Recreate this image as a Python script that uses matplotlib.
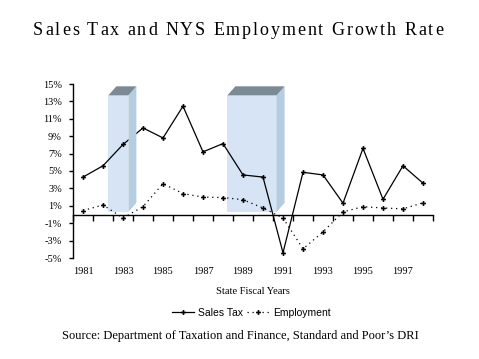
#!/usr/bin/env python3
"""Sales tax vs NYS employment growth rate, with recession boxes."""

import matplotlib

matplotlib.use("Agg")
import matplotlib.pyplot as plt
from matplotlib.patches import Polygon
from matplotlib.transforms import blended_transform_factory

years = list(range(1981, 1999))
year_labels = [str(y) for y in range(1981, 1999, 2)]
sales_tax = [4.3, 5.6, 8.05, 9.95, 8.8, 12.45, 7.2, 8.15, 4.55, 4.3,
             -4.4, 4.85, 4.55, 1.3, 7.6, 1.75, 5.6, 3.6]
employment = [0.45, 1.1, -0.4, 0.9, 3.55, 2.4, 2.0, 1.95, 1.7, 0.75,
              -0.4, -3.95, -2.0, 0.3, 0.9, 0.75, 0.65, 1.35]

# recession periods (fiscal-year axis) and box height in percent
recession_start = [1982.27, 1988.22]
recession_end = [1983.27, 1990.68]
recession_top = 13.7
recession_bottom = 0.3

TITLE = "Sales Tax and NYS Employment Growth Rate"
SERIF = "Liberation Serif"
SANS = "Liberation Sans"


def spaced_text(fig, x_center, y, text, width, **kw):
    """Draw text with extra letter spacing so it spans `width` pixels."""
    renderer = fig.canvas.get_renderer()

    def w(s):
        t = fig.text(0, 0, s, **kw)
        ext = t.get_window_extent(renderer).width
        t.remove()
        return ext

    base = w("xx")
    widths = [w("x" + ch + "x") - base for ch in text]
    gap = (width - sum(widths)) / (len(text) - 1)
    x = x_center - width / 2
    for ch, cw in zip(text, widths):
        if ch != " ":
            fig.text(x / fig.bbox.width, y, ch, ha="left", va="baseline", **kw)
        x += cw + gap


fig = plt.figure(figsize=(4.79, 3.59), dpi=100)
ax = fig.add_axes([73 / 479, 1 - 258 / 359, 360 / 479, 174 / 359])

ax.set_xlim(years[0] - 0.5, years[-1] + 0.5)
ax.set_ylim(-5, 15)

# 3-D looking recession boxes, depth given in pixels
for x0, x1 in zip(recession_start, recession_end):
    front = Polygon([(x0, recession_bottom), (x1, recession_bottom),
                     (x1, recession_top), (x0, recession_top)],
                    closed=True, facecolor="#d6e4f5", edgecolor="none", zorder=1)
    ax.add_patch(front)
    fx, fy = ax.transData.transform((x1, recession_bottom))
    tx, ty = ax.transData.transform((x1, recession_top))
    lx, ly = ax.transData.transform((x0, recession_top))
    side = Polygon([(fx, fy), (fx + 8, fy + 9), (tx + 8, ty + 9), (tx, ty)],
                   closed=True, transform=None, facecolor="#b5cde0",
                   edgecolor="none", zorder=1)
    top = Polygon([(lx, ly), (tx, ty), (tx + 8, ty + 9), (lx + 8, ly + 9)],
                  closed=True, transform=None, facecolor="#7b8b96",
                  edgecolor="none", zorder=1)
    fig.add_artist(side)
    fig.add_artist(top)

ax.plot(years, sales_tax, color="black", linewidth=0.9, marker="P",
        markersize=3.5, markeredgewidth=0, label="Sales Tax", zorder=3)
ax.plot(years, employment, color="black", linewidth=0.9, linestyle=(0, (1, 3)),
        marker="P", markersize=3.5, markeredgewidth=0, label="Employment", zorder=3)

for side_name in ("top", "right"):
    ax.spines[side_name].set_visible(False)
ax.spines["bottom"].set_position(("data", 0))
ax.spines["left"].set_linewidth(1.0)
ax.spines["bottom"].set_linewidth(1.0)

ax.set_yticks(range(-5, 16, 2))
ax.set_yticklabels([f"{v}%" for v in range(-5, 16, 2)], fontfamily=SERIF, fontsize=7.5)
ax.tick_params(axis="y", direction="out", length=3, width=1, pad=5)

ax.set_xticks([y + 0.5 for y in years[:-1]] + [years[0] - 0.5, years[-1] + 0.5])
ax.set_xticklabels([])
ax.tick_params(axis="x", direction="out", length=4, width=1)

trans = blended_transform_factory(ax.transData, ax.transAxes)
for lab in year_labels:
    ax.text(int(lab), -0.075, lab, transform=trans, ha="center", va="center",
            fontfamily=SERIF, fontsize=7.5)

fig.text(253 / 479, 1 - 292 / 359, "State Fiscal Years", ha="center", va="center",
         fontfamily=SERIF, fontsize=7.5)

fig.legend(loc="center", bbox_to_anchor=(251 / 479, 1 - 313 / 359), ncol=2, frameon=False,
           prop={"family": SANS, "size": 7.5}, handlelength=2.2, handletextpad=0.3,
           columnspacing=0.4)

fig.text(240 / 479, 1 - 336 / 359,
         "Source: Department of Taxation and Finance, Standard and Poor\u2019s DRI",
         ha="center", va="center", fontfamily=SERIF, fontsize=9)

spaced_text(fig, 238, 1 - 35 / 359, TITLE, 410, fontfamily=SERIF, fontsize=13)

fig.savefig("out.png", dpi=100)
